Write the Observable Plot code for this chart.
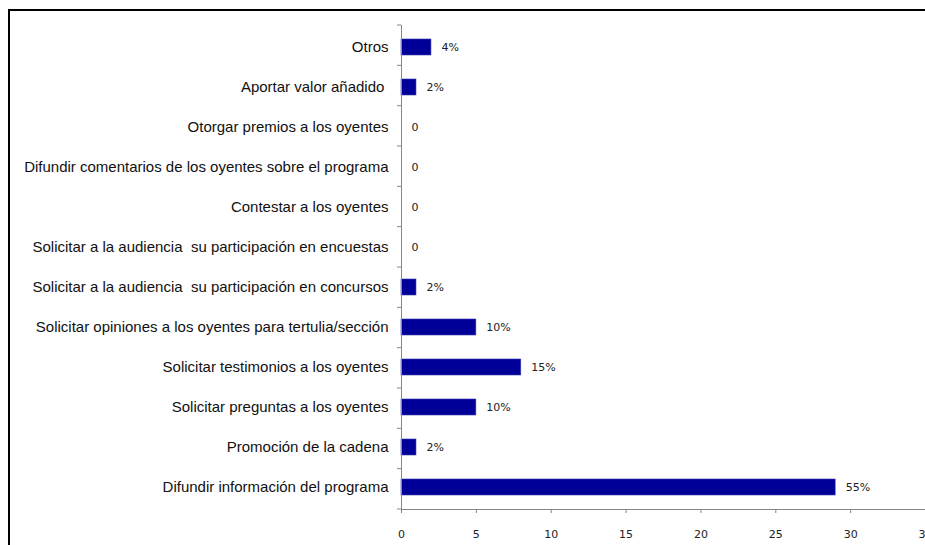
<!DOCTYPE html>
<html>
<head>
<meta charset="utf-8">
<script src="https://cdn.jsdelivr.net/npm/d3@7"></script>
<script src="https://cdn.jsdelivr.net/npm/@observablehq/plot@0.6"></script>
<style>
  html, body { margin: 0; padding: 0; background: #fff; overflow: hidden; }
  #wrap { position: relative; width: 925px; height: 545px; }
  #frame { position: absolute; left: 8px; top: 9px; width: 940px; height: 560px;
           border-left: 2px solid #000; border-top: 2px solid #000; box-sizing: border-box; pointer-events: none; }
</style>
</head>
<body>
<div id="wrap"><div id="chart"></div><div id="frame"></div></div>
<script>
const categories = [
  "Otros",
  "Aportar valor añadido\u00a0",
  "Otorgar premios a los oyentes",
  "Difundir comentarios de los oyentes sobre el programa",
  "Contestar a los oyentes",
  "Solicitar a la audiencia \u00a0su participación en encuestas",
  "Solicitar a la audiencia \u00a0su participación en concursos",
  "Solicitar opiniones a los oyentes para tertulia/sección",
  "Solicitar testimonios a los oyentes",
  "Solicitar preguntas a los oyentes",
  "Promoción de la cadena",
  "Difundir información del programa"
];
const values = [2, 1, 0, 0, 0, 0, 1, 5, 8, 5, 1, 29];
const valueLabels = ["4%", "2%", "0", "0", "0", "0", "2%", "10%", "15%", "10%", "2%", "55%"];
const xTicks = [0, 5, 10, 15, 20, 25, 30, 35];

const data = categories.map((c, i) => ({category: c, value: values[i], label: valueLabels[i]}));

const W = 925, H = 545, mL = 401, mT = 25, mB = 36, mR = 0;

// tick marks on the y axis at category boundaries
function yBoundaryTicks(index, scales, values, dimensions) {
  const g = d3.create("svg:g");
  const h = dimensions.height - dimensions.marginTop - dimensions.marginBottom;
  const n = categories.length;
  for (let k = 0; k <= n; k++) {
    const y = dimensions.marginTop + k * h / n;
    g.append("line")
      .attr("x1", dimensions.marginLeft - 4).attr("x2", dimensions.marginLeft)
      .attr("y1", y).attr("y2", y)
      .attr("stroke", "#868686").attr("stroke-width", 1);
  }
  return g.node();
}

const chart = Plot.plot({
  width: W, height: H,
  marginLeft: mL, marginTop: mT, marginBottom: mB, marginRight: mR,
  style: {fontFamily: "'Liberation Sans', Arial, sans-serif", background: "transparent"},
  x: {domain: [0, 35], ticks: xTicks, label: null},
  y: {domain: categories, paddingInner: 0.6, paddingOuter: 0.3, label: null},
  marks: [
    Plot.barX(data, {x: "value", y: "category", fill: "#000099", stroke: "#3a3ab0", strokeWidth: 0.6}),
    Plot.text(data, {x: "value", y: "category", text: "label", dx: 10, textAnchor: "start",
      fontSize: 11, fill: "#222", fontFamily: "'DejaVu Sans', sans-serif"}),
    Plot.frame({anchor: "left", stroke: "#868686"}),
    Plot.frame({anchor: "bottom", stroke: "#868686"}),
    yBoundaryTicks,
    Plot.axisY({tickSize: 0, tickPadding: 13, fontSize: 15, fill: "#111", label: null}),
    Plot.axisX({ticks: xTicks, tickSize: 4, tickPadding: 17, fontSize: 11, fill: "#222",
      stroke: "#868686", fontFamily: "'DejaVu Sans', sans-serif", label: null})
  ]
});
document.getElementById("chart").appendChild(chart);
</script>
</body>
</html>
